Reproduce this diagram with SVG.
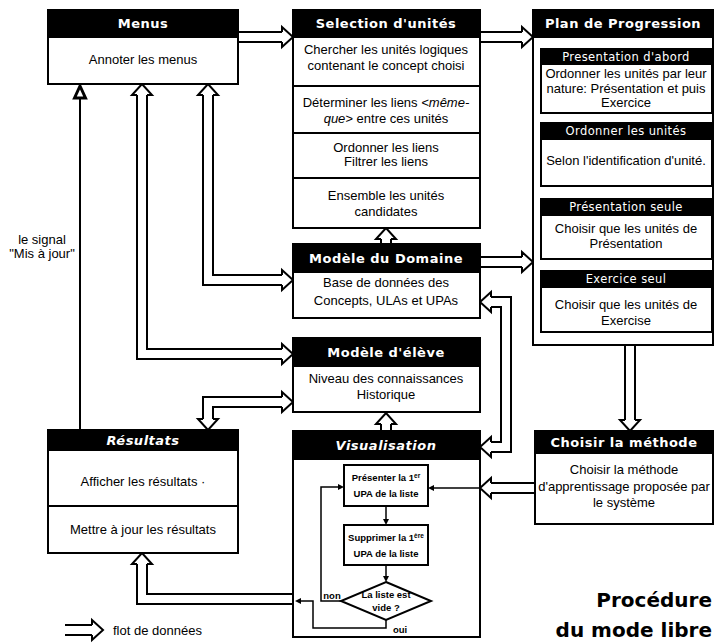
<svg xmlns="http://www.w3.org/2000/svg" xmlns:xlink="http://www.w3.org/1999/xlink" width="716" height="643" viewBox="0 0 716 643">
<style>
.bg{fill:#fff}
.box{fill:#fff;stroke:#000;stroke-width:2}
.hdr{fill:#000;stroke:#000;stroke-width:2}
.ln{stroke:#000;stroke-width:2;fill:none}
.ht{font-family:"DejaVu Sans",Verdana,sans-serif;font-weight:bold;font-size:13px;fill:#fff;text-anchor:middle;letter-spacing:0.5px}
.hti{font-style:italic}
.sh{font-family:"DejaVu Sans",Verdana,sans-serif;font-size:11.5px;fill:#fff;text-anchor:middle;letter-spacing:0.4px}
.bt{font-family:"Liberation Sans",Arial,sans-serif;font-size:13px;fill:#000;text-anchor:middle}
.ft{font-family:"Liberation Sans",Arial,sans-serif;font-size:9.5px;font-weight:bold;fill:#000;text-anchor:middle}
.po{fill:none;stroke:#000;stroke-width:12;stroke-linejoin:miter}
.pi{fill:none;stroke:#fff;stroke-width:8;stroke-linejoin:miter}
.sl{fill:none;stroke:#000;stroke-width:1.5}
.big{font-family:"DejaVu Sans",Verdana,sans-serif;font-weight:bold;font-size:20px;fill:#000;text-anchor:end}
</style>
<defs>
<path id="ah" d="M-11,-5 L-11,-10 L0,0 L-11,10 L-11,5" fill="#fff" stroke="#000" stroke-width="2" stroke-linejoin="miter"/>
<path id="sa" d="M0,0 L-6,-3 L-6,3 Z" fill="#000"/>
</defs>
<rect class="bg" x="0" y="0" width="716" height="643"/>

<g id="connectors">
<path class="po" d="M239,37 H282"/><path class="pi" d="M239,37 H282"/>
<use xlink:href="#ah" transform="translate(293,37)"/>
<path class="po" d="M481,37 H522"/><path class="pi" d="M481,37 H522"/>
<use xlink:href="#ah" transform="translate(533,37)"/>
<path class="po" d="M386,243 V238"/><path class="pi" d="M386,243 V238"/>
<use xlink:href="#ah" transform="translate(386,228) rotate(-90)"/>
<path class="po" d="M481,262 H522"/><path class="pi" d="M481,262 H522"/>
<use xlink:href="#ah" transform="translate(533,262)"/>
<path class="po" d="M491,302 H506 V447 H491"/><path class="pi" d="M491,302 H506 V447 H491"/>
<use xlink:href="#ah" transform="translate(480,302) rotate(180)"/>
<use xlink:href="#ah" transform="translate(480,447) rotate(180)"/>
<path class="po" d="M208,95 V280 H282"/><path class="pi" d="M208,95 V280 H282"/>
<use xlink:href="#ah" transform="translate(208,84) rotate(-90)"/>
<use xlink:href="#ah" transform="translate(293,280)"/>
<path class="po" d="M142,95 V354 H282"/><path class="pi" d="M142,95 V354 H282"/>
<use xlink:href="#ah" transform="translate(142,84) rotate(-90)"/>
<use xlink:href="#ah" transform="translate(293,354)"/>
<path class="po" d="M208,419 V402 H282"/><path class="pi" d="M208,419 V402 H282"/>
<use xlink:href="#ah" transform="translate(208,430) rotate(90)"/>
<use xlink:href="#ah" transform="translate(293,402)"/>
<path class="po" d="M386,430 V424"/><path class="pi" d="M386,430 V424"/>
<use xlink:href="#ah" transform="translate(386,413) rotate(-90)"/>
<path class="po" d="M292,599 H142 V564"/><path class="pi" d="M292,599 H142 V564"/>
<use xlink:href="#ah" transform="translate(142,553) rotate(-90)"/>
<path class="po" d="M630,346 V420"/><path class="pi" d="M630,346 V420"/>
<use xlink:href="#ah" transform="translate(630,431) rotate(90)"/>
<path class="po" d="M534,488 H491"/><path class="pi" d="M534,488 H491"/>
<use xlink:href="#ah" transform="translate(480,488) rotate(180)"/>
<path class="ln" d="M80,430 V92"/>
<path d="M74.5,98 L80,86 L85.5,98 Z" fill="#fff" stroke="#000" stroke-width="3" stroke-linejoin="miter"/>
</g>

<g id="menus">
<rect class="box" x="48" y="10" width="190" height="74"/>
<rect class="hdr" x="48" y="10" width="190" height="27"/>
<text class="ht" x="143" y="28">Menus</text>
<text class="bt" x="143" y="64">Annoter les menus</text>
</g>

<g id="selection">
<rect class="box" x="293" y="10" width="187" height="218"/>
<rect class="hdr" x="293" y="10" width="187" height="27"/>
<text class="ht" x="386" y="28">Selection d'unités</text>
<text class="bt" x="386" y="54">Chercher les unités logiques</text>
<text class="bt" x="386" y="70">contenant le concept choisi</text>
<line class="ln" x1="293" y1="86" x2="480" y2="86"/>
<text class="bt" x="386" y="107">Déterminer les liens <tspan font-style="italic">&lt;même-</tspan></text>
<text class="bt" x="386" y="123"><tspan font-style="italic">que&gt;</tspan> entre ces unités</text>
<line class="ln" x1="293" y1="133" x2="480" y2="133"/>
<text class="bt" x="386" y="152">Ordonner les liens</text>
<text class="bt" x="386" y="166">Filtrer les liens</text>
<line class="ln" x1="293" y1="178" x2="480" y2="178"/>
<text class="bt" x="386" y="200">Ensemble les unités</text>
<text class="bt" x="386" y="216">candidates</text>
</g>

<g id="plan">
<rect class="box" x="533" y="10" width="180" height="335"/>
<rect class="hdr" x="533" y="10" width="180" height="27"/>
<text class="ht" x="623" y="28">Plan de Progression</text>
<rect class="box" x="541" y="49" width="171" height="64"/>
<rect class="hdr" x="541" y="49" width="171" height="15"/>
<text class="sh" x="626" y="61">Presentation d'abord</text>
<text class="bt" x="626" y="78">Ordonner les unités par leur</text>
<text class="bt" x="626" y="93">nature: Présentation et puis</text>
<text class="bt" x="626" y="107">Exercice</text>
<rect class="box" x="541" y="123" width="171" height="63"/>
<rect class="hdr" x="541" y="123" width="171" height="16"/>
<text class="sh" x="626" y="135">Ordonner les unités</text>
<text class="bt" x="626" y="165">Selon l'identification d'unité.</text>
<rect class="box" x="541" y="199" width="171" height="60"/>
<rect class="hdr" x="541" y="199" width="171" height="16"/>
<text class="sh" x="626" y="211">Présentation seule</text>
<text class="bt" x="626" y="233">Choisir que les unités de</text>
<text class="bt" x="626" y="248">Présentation</text>
<rect class="box" x="541" y="271" width="171" height="61"/>
<rect class="hdr" x="541" y="271" width="171" height="16"/>
<text class="sh" x="626" y="283">Exercice seul</text>
<text class="bt" x="626" y="309">Choisir que les unités de</text>
<text class="bt" x="626" y="325">Exercise</text>
</g>

<g id="domaine">
<rect class="box" x="293" y="244" width="187" height="74"/>
<rect class="hdr" x="293" y="244" width="187" height="28"/>
<text class="ht" x="386" y="263">Modèle du Domaine</text>
<text class="bt" x="386" y="287">Base de données des</text>
<text class="bt" x="386" y="305">Concepts, ULAs et UPAs</text>
</g>

<g id="eleve">
<rect class="box" x="293" y="338" width="187" height="74"/>
<rect class="hdr" x="293" y="338" width="187" height="28"/>
<text class="ht" x="386" y="357">Modèle d'élève</text>
<text class="bt" x="386" y="383">Niveau des connaissances</text>
<text class="bt" x="386" y="399">Historique</text>
</g>

<g id="resultats">
<rect class="box" x="48" y="430" width="190" height="123"/>
<rect class="hdr" x="48" y="430" width="190" height="20"/>
<text class="ht hti" x="143" y="445">Résultats</text>
<text class="bt" x="143" y="486">Afficher les résultats ·</text>
<line class="ln" x1="48" y1="506" x2="238" y2="506"/>
<text class="bt" x="143" y="534">Mettre à jour les résultats</text>
</g>

<g id="visualisation">
<rect class="box" x="293" y="431" width="187" height="206"/>
<rect class="hdr" x="293" y="431" width="187" height="28"/>
<text class="ht hti" x="386" y="450">Visualisation</text>
<rect class="box" x="344" y="465" width="84" height="41" stroke-width="1.5"/>
<text class="ft" x="386" y="481">Présenter la 1<tspan font-size="6.5px" baseline-shift="super">er</tspan></text>
<text class="ft" x="386" y="497">UPA de la liste</text>
<rect class="box" x="344" y="525" width="84" height="40" stroke-width="1.5"/>
<text class="ft" x="386" y="541">Supprimer la 1<tspan font-size="6.5px" baseline-shift="super">ère</tspan></text>
<text class="ft" x="386" y="557">UPA de la liste</text>
<path class="box" stroke-width="1.5" d="M386,582 L431,601 L386,620 L341,601 Z"/>
<text class="ft" x="386" y="598">La liste est</text>
<text class="ft" x="386" y="611">vide ?</text>
<path class="sl" d="M480,488 H434"/><use xlink:href="#sa" transform="translate(428,488) rotate(180)"/>
<path class="sl" d="M386,506 V519"/><use xlink:href="#sa" transform="translate(386,525) rotate(90)"/>
<path class="sl" d="M386,565 V576"/><use xlink:href="#sa" transform="translate(386,582) rotate(90)"/>
<path class="sl" d="M341,601 H321 V487 H338"/><use xlink:href="#sa" transform="translate(344,487)"/>
<path class="sl" d="M386,620 V628 H313 V601 H301"/><use xlink:href="#sa" transform="translate(295,601) rotate(180)"/>
<text class="ft" x="332" y="599" font-size="10px">non</text>
<text class="ft" x="400" y="633" font-size="10px">oui</text>
</g>

<g id="choisir">
<rect class="box" x="535" y="431" width="178" height="93"/>
<rect class="hdr" x="535" y="431" width="178" height="22"/>
<text class="ht" x="624" y="447">Choisir la méthode</text>
<text class="bt" x="624" y="474">Choisir la méthode</text>
<text class="bt" x="624" y="491">d'apprentissage proposée par</text>
<text class="bt" x="624" y="507">le système</text>
</g>

<g id="signal-label">
<text class="bt" x="42" y="244">le signal</text>
<text class="bt" x="42" y="258">"Mis à jour"</text>
</g>

<g id="legend">
<path class="po" d="M65,630 H92"/><path class="pi" d="M65,630 H92"/>
<use xlink:href="#ah" transform="translate(103,630)"/>
<text class="bt" x="113" y="635" style="text-anchor:start">flot de données</text>
</g>

<g id="title">
<text class="big" x="712" y="607">Procédure</text>
<text class="big" x="712" y="637">du mode libre</text>
</g>
</svg>
